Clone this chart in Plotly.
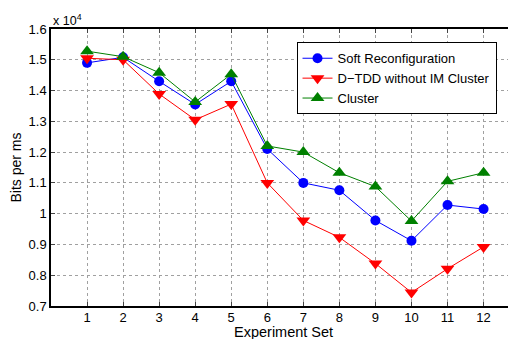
import plotly.graph_objects as go

experiments = list(range(1, 13))
soft_reconfig = [14900, 15080, 14300, 13550, 14300, 12100, 11000, 10760, 9780, 9120, 10280, 10150]
dtdd_no_im = [15050, 15000, 13890, 13050, 13560, 11000, 9780, 9230, 8380, 7440, 8210, 8920]
cluster = [15280, 15100, 14580, 13630, 14530, 12200, 12000, 11330, 10880, 9760, 11050, 11330]

y_tickvals = [7000, 8000, 9000, 10000, 11000, 12000, 13000, 14000, 15000, 16000]
y_ticktext = ["0.7", "0.8", "0.9", "1", "1.1", "1.2", "1.3", "1.4", "1.5", "1.6"]

FONT = "Liberation Sans, Arial, Helvetica, sans-serif"

fig = go.Figure()
fig.add_trace(go.Scatter(x=experiments, y=soft_reconfig, name="Soft Reconfiguration",
                         mode="lines+markers", line=dict(color="#0000ff", width=1),
                         marker=dict(symbol="circle", size=10, color="#0000ff")))
fig.add_trace(go.Scatter(x=experiments, y=dtdd_no_im, name="D\u2212TDD without IM Cluster",
                         mode="lines+markers", line=dict(color="#ff0000", width=1),
                         marker=dict(symbol="triangle-down", size=12, color="#ff0000")))
fig.add_trace(go.Scatter(x=experiments, y=cluster, name="Cluster",
                         mode="lines+markers", line=dict(color="#008000", width=1),
                         marker=dict(symbol="triangle-up", size=12, color="#008000")))
# invisible trace to activate top x axis
fig.add_trace(go.Scatter(x=[experiments[0]], y=[cluster[0]], xaxis="x2", showlegend=False,
                         mode="markers", marker=dict(opacity=0), hoverinfo="skip"))

grid = dict(showgrid=True, gridcolor="#a0a0a0", griddash="dot", gridwidth=1)

# page body has an 8px margin; the figure is sized so it fills the 516x339 window
fig.update_layout(
    width=508, height=331,
    margin=dict(l=43, r=0, t=21, b=33, autoexpand=False),
    paper_bgcolor="white", plot_bgcolor="white",
    font=dict(family=FONT, size=13, color="black"),
    showlegend=True,
    legend=dict(x=0.528, y=0.952, xanchor="left", yanchor="top",
                bgcolor="white", bordercolor="black", borderwidth=1,
                font=dict(size=13), tracegroupgap=0, itemwidth=30,
                traceorder="normal"),
    xaxis=dict(range=[0, 12.9], tickvals=experiments, ticks="inside", ticklen=4,
               showline=True, linecolor="black", linewidth=1.5, zeroline=False,
               automargin=False, tickfont=dict(size=13), ticklabelstandoff=-1, **grid),
    xaxis2=dict(range=[0, 12.9], tickvals=experiments, ticks="inside", ticklen=4,
                overlaying="x", side="top", showticklabels=False, showgrid=False,
                automargin=False,
                showline=True, linecolor="black", linewidth=1.5, zeroline=False),
    yaxis=dict(range=[7000, 16000], tickvals=y_tickvals, ticktext=y_ticktext,
               ticks="inside", ticklen=4, showline=True, linecolor="black", linewidth=1.5,
               zeroline=False, tickfont=dict(size=13), automargin=False,
               title=dict(text="Bits per ms", font=dict(size=14), standoff=6), **grid),
    annotations=[
        dict(text="x 10<sup>4</sup>", xref="paper", yref="paper", x=0, y=1,
             xanchor="left", yanchor="bottom", showarrow=False,
             font=dict(size=12.5), yshift=-1),
        dict(text="Experiment Set", xref="paper", yref="paper", x=0.5, y=0,
             xanchor="center", yanchor="middle", showarrow=False, borderpad=0,
             font=dict(size=14.5), yshift=-25.5),
    ],
)

fig.write_html("out.html")
